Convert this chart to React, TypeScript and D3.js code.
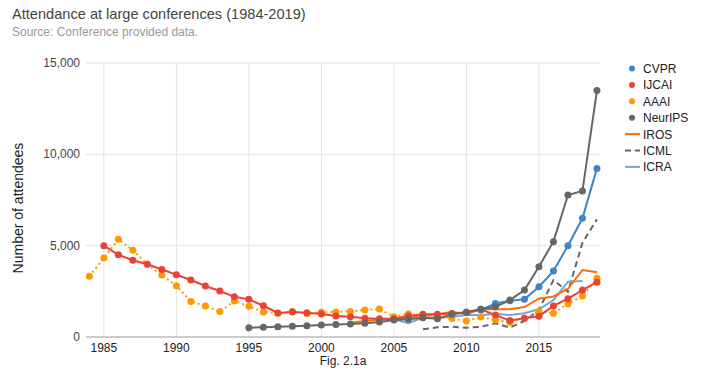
import React from "react";
import * as d3 from "d3";

const years = [1984, 1985, 1986, 1987, 1988, 1989, 1990, 1991, 1992, 1993, 1994, 1995,
  1996, 1997, 1998, 1999, 2000, 2001, 2002, 2003, 2004, 2005, 2006, 2007,
  2008, 2009, 2010, 2011, 2012, 2013, 2014, 2015, 2016, 2017, 2018, 2019];

const _ = null;
// one value per year above, null where the conference has no figure
const cvpr = [_, _, _, _, _, _, _, _, _, _, _, _, _, _, _, _, _, _, _, _, _, _, _, _,
  _, _, _, 1480, 1840, 1990, 2060, 2750, 3610, 5000, 6500, 9230];
const ijcai = [_, 5000, 4500, 4200, 3980, 3700, 3410, 3120, 2790, 2520, 2200, 2060,
  1710, 1320, 1370, 1330, 1260, 1150, 1110, 1020, 1000, 1000, 1150, 1240,
  1240, 1280, 1350, 1520, 1200, 900, 1030, 1140, 1700, 2100, 2570, 3000];
const aaai = [3320, 4320, 5350, 4750, 3980, 3390, 2810, 1950, 1700, 1390, 1970, 1680,
  1370, 1300, 1400, 1280, 1350, 1370, 1400, 1480, 1530, 1110, 1260, 1100,
  1110, 1010, 880, 1100, 930, 800, 1020, 1400, 1300, 1820, 2240, 3220];
const neurips = [_, _, _, _, _, _, _, _, _, _, _, 510,
  530, 565, 585, 620, 660, 690, 710, 750, 820, 930, 970, 1060,
  1000, 1250, 1350, 1520, 1660, 2020, 2570, 3850, 5220, 7770, 7990, 13500];
const iros = [_, _, _, _, _, _, _, _, _, _, _, _, _, _, _, _, _, _,
  780, 880, 960, 1000, 1050, 1150, 1250, 1370, 1260, 1520, 1520, 1520, 1640, 2100, 2220, 2640, 3670, 3540];
const icml = [_, _, _, _, _, _, _, _, _, _, _, _, _, _, _, _, _, _, _, _, _, _, _,
  420, 530, 560, 510, 560, 750, 510, 880, 1480, 3120, 2480, 5160, 6440];
const icra = [_, _, _, _, _, _, _, _, _, _, _, _, _, _, _, _, _, _, _, _, _,
  970, 750, 1060, 1050, 1110, 1200, 1200, 1260, 1200, 1300, 1520, 2020, 3030, 3060, _];

const xTicks = [1985, 1990, 1995, 2000, 2005, 2010, 2015];
const yTicks = [0, 5000, 10000, 15000];

type Series = { name: string; values: (number | null)[]; color: string; dash?: string; dots: boolean };

const series: Series[] = [
  { name: "CVPR", values: cvpr, color: "#3d85c6", dots: true },
  { name: "IJCAI", values: ijcai, color: "#ea4335", dots: true },
  { name: "AAAI", values: aaai, color: "#ff9900", dash: "2,3", dots: true },
  { name: "NeurIPS", values: neurips, color: "#666666", dots: true },
  { name: "IROS", values: iros, color: "#ff6d01", dots: false },
  { name: "ICML", values: icml, color: "#666666", dash: "6,4", dots: false },
  { name: "ICRA", values: icra, color: "#6fa8dc", dots: false },
];

const font = "Arial, 'Liberation Sans', sans-serif";

export default function App() {
  const width = 715;
  const height = 371;
  const left = 86, right = 600, top = 63, bottom = 337;

  const x = d3.scaleLinear().domain([1983.77, 2019.21]).range([left, right]);
  const y = d3.scaleLinear().domain([0, 15000]).range([bottom, top]);

  const line = d3.line<[number, number | null]>()
    .defined((d) => d[1] !== null)
    .x((d) => x(d[0]))
    .y((d) => y(d[1] as number));

  // paint order: lines under, NeurIPS on top like the original
  const order = ["ICML", "ICRA", "IROS", "AAAI", "IJCAI", "CVPR", "NeurIPS"];
  const drawn = order.map((n) => series.find((s) => s.name === n)!);

  return (
    <svg width={width} height={height} style={{ position: "absolute", left: 0, top: 0 }} fontFamily={font}>
      <rect width={width} height={height} fill="#fff" />
      <text x={12} y={19} fontSize={14.6} fill="#444">Attendance at large conferences (1984-2019)</text>
      <text x={12} y={36} fontSize={12} fill="#999">Source: Conference provided data.</text>

      <g>
        {yTicks.filter((t) => t > 0).map((t) => (
          <line key={t} x1={left} x2={right} y1={y(t)} y2={y(t)} stroke="#e3e3e3" />
        ))}
        {xTicks.map((t) => (
          <line key={t} x1={x(t)} x2={x(t)} y1={top} y2={bottom} stroke="#e3e3e3" />
        ))}
        <line x1={left} x2={right} y1={bottom} y2={bottom} stroke="#999" />
        {yTicks.map((t) => (
          <text key={t} x={80} y={y(t) + 4} textAnchor="end" fontSize={12} fill="#444">
            {d3.format(",")(t)}
          </text>
        ))}
        {xTicks.map((t) => (
          <text key={t} x={x(t)} y={352} textAnchor="middle" fontSize={12} fill="#222">{t}</text>
        ))}
        <text transform={`translate(23,${(top + bottom) / 2 + 8}) rotate(-90)`} textAnchor="middle" fontSize={14} fill="#222">
          Number of attendees
        </text>
        <text x={(left + right) / 2} y={365} textAnchor="middle" fontSize={12} fill="#222">Fig. 2.1a</text>
      </g>

      {drawn.map((s) => {
        const pts = years.map((yr, i) => [yr, s.values[i]] as [number, number | null]);
        return (
          <g key={s.name}>
            <path d={line(pts) || ""} fill="none" stroke={s.color} strokeWidth={2} strokeDasharray={s.dash} />
            {s.dots && pts.filter((p) => p[1] !== null).map((p) => (
              <circle key={p[0]} cx={x(p[0])} cy={y(p[1] as number)} r={3.5} fill={s.color} />
            ))}
          </g>
        );
      })}

      <g>
        {series.map((s, i) => {
          const ly = 68.5 + i * 16.4;
          return (
            <g key={s.name}>
              {s.dots ? (
                <circle cx={632} cy={ly} r={3} fill={s.color} />
              ) : (
                <line x1={625} x2={640} y1={ly} y2={ly} stroke={s.color} strokeWidth={2} strokeDasharray={s.dash} />
              )}
              <text x={643} y={ly + 4.5} fontSize={12} fill="#222">{s.name}</text>
            </g>
          );
        })}
      </g>
    </svg>
  );
}
